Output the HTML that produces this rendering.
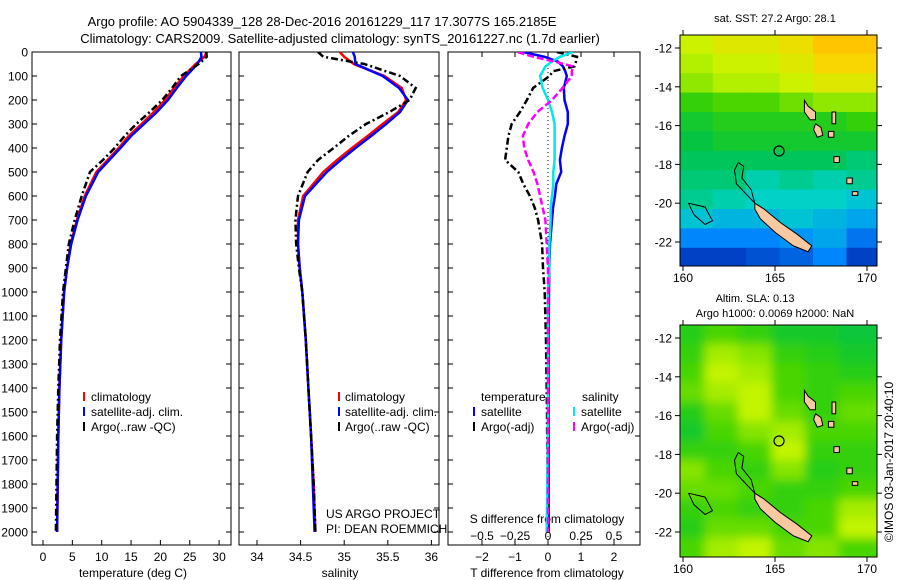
<!DOCTYPE html>
<html><head><meta charset="utf-8"><style>
body{margin:0;background:#fff}
svg{display:block;font-family:"Liberation Sans",sans-serif}
text{fill:#000}
</style></head><body>
<svg id="fig" width="900" height="580" viewBox="0 0 900 580">
<defs>
<clipPath id="c1"><rect x="32" y="52" width="199" height="493"/></clipPath>
<clipPath id="c2"><rect x="239" y="52" width="200" height="493"/></clipPath>
<clipPath id="c3"><rect x="448" y="52" width="192" height="493"/></clipPath>
<clipPath id="m1"><rect x="680" y="35" width="197" height="231"/></clipPath>
<clipPath id="m2"><rect x="680" y="325" width="197" height="232"/></clipPath>
<filter id="blur" x="-5%" y="-5%" width="110%" height="110%"><feGaussianBlur stdDeviation="5"/></filter>
</defs>
<text x="322" y="26" font-size="13" text-anchor="middle">Argo profile: AO 5904339_128 28-Dec-2016 20161229_117 17.3077S 165.2185E</text>
<text x="340" y="43" font-size="13" text-anchor="middle">Climatology: CARS2009. Satellite-adjusted climatology: synTS_20161227.nc (1.7d earlier)</text>
<g id="g"></g>
</svg>
<script>
// ---- data ----
const depthT = [0,20,50,100,150,200,250,300,350,400,450,500,600,700,800,900,1000,1200,1400,1600,1800,2000];
const argoT = [27.8,27.9,26.5,23.5,22.0,20.3,18.2,15.9,13.9,12.2,10.2,8.0,6.6,5.4,4.4,3.9,3.4,2.9,2.6,2.4,2.3,2.2];
const climT = [27.9,27.5,26.0,24.0,22.3,20.8,18.9,16.8,14.6,12.9,11.0,9.1,7.1,5.8,4.7,4.1,3.6,3.1,2.8,2.6,2.5,2.4];
const satT = [26.9,27.0,26.3,24.4,22.8,21.3,19.4,17.2,15.0,13.2,11.3,9.4,7.3,5.9,4.8,4.1,3.6,3.1,2.8,2.6,2.5,2.4];
const argoS = [34.70,34.76,35.23,35.64,35.82,35.75,35.52,35.25,35.05,34.88,34.70,34.58,34.47,34.44,34.45,34.48,34.52,34.56,34.59,34.62,34.65,34.67];
const climS = [34.95,35.00,35.11,35.46,35.66,35.71,35.62,35.44,35.27,35.09,34.92,34.76,34.53,34.47,34.47,34.49,34.52,34.56,34.59,34.62,34.65,34.67];
const satS = [35.10,35.12,35.13,35.44,35.63,35.73,35.64,35.48,35.31,35.13,34.96,34.80,34.55,34.48,34.47,34.49,34.52,34.56,34.59,34.62,34.64,34.66];
const depthD = [0,20,40,60,80,100,150,200,250,300,350,400,450,500,550,600,650,700,800,900,1000,1200,1500,2000];
const satTd = [-0.76,-0.1,0.3,0.45,0.52,0.57,0.48,0.5,0.6,0.6,0.5,0.42,0.36,0.4,0.25,0.21,0.15,0.12,0.06,0.04,0.03,0.02,0.02,0.02];
const argoTd = [0.27,0.88,0.85,0.8,0.15,0.05,-0.45,-0.64,-0.85,-1.1,-1.2,-1.25,-1.3,-0.9,-0.75,-0.55,-0.4,-0.3,-0.18,-0.15,-0.1,-0.06,-0.03,0.0];
const satSd = [0.19,0.09,0.03,-0.02,-0.04,-0.06,-0.04,0.0,0.03,0.05,0.05,0.05,0.05,0.04,0.04,0.03,0.02,0.02,0.01,0.01,0.0,0.0,0.0,-0.01];
const argoSd = [-0.23,-0.11,0.05,0.19,0.18,0.18,0.11,0.03,-0.08,-0.15,-0.19,-0.18,-0.15,-0.11,-0.08,-0.06,-0.04,-0.02,-0.01,0,0,0,0,0];
const depthTicks = [0,100,200,300,400,500,600,700,800,900,1000,1100,1200,1300,1400,1500,1600,1700,1800,1900,2000];
const tTicks = [0,5,10,15,20,25,30];
const sTicks = [34,34.5,35,35.5,36];
const tdTicks = [-2,-1,0,1,2];
const sdTicks = [-0.5,-0.25,0,0.25,0.5];
const sdLabels = ['\u22120.5','\u22120.25','0','0.25','0.5'];
const tdLabels = ['\u22122','\u22121','0','1','2'];
const lonTicks = [160,165,170];
const latTicks = [-12,-14,-16,-18,-20,-22];
const sstGrid = [
[28.2,28.3,28.3,28.4,28.6,28.6],[28.1,28.2,28.2,28.3,28.5,28.5],[28.0,28.1,28.1,28.2,28.3,28.3],
[27.7,27.8,27.8,27.9,28.0,28.0],[27.5,27.6,27.6,27.6,27.6,27.7],[27.4,27.5,27.5,27.5,27.5,27.5],
[27.3,27.3,27.3,27.3,27.3,27.2],[27.2,27.2,27.0,27.1,27.0,27.1],[27.1,27.0,26.9,26.9,26.9,26.8],
[26.8,26.7,26.7,26.8,26.7,26.6],[26.4,26.4,26.4,26.5,26.6,26.3],[26.0,26.0,26.1,26.2,26.4,26.0]];
const slaGrid = [
[.12,.14,.13,.11,.11,.10],[.13,.17,.16,.13,.12,.11],[.14,.18,.17,.14,.13,.12],[.15,.17,.18,.14,.13,.14],
[.12,.15,.18,.15,.13,.15],[.11,.14,.16,.17,.14,.14],[.13,.13,.14,.18,.13,.13],[.16,.14,.13,.16,.12,.13],
[.15,.15,.14,.13,.13,.14],[.13,.14,.13,.13,.14,.17],[.12,.15,.15,.14,.14,.18],[.14,.17,.18,.15,.16,.14]];
const argoLon = 165.2185, argoLat = -17.3077;

// ---- helpers ----
const NS='http://www.w3.org/2000/svg';
const G=document.getElementById('g');
function el(tag,attrs,parent,txt){const e=document.createElementNS(NS,tag);for(const k in attrs)e.setAttribute(k,attrs[k]);if(txt!==undefined)e.textContent=txt;(parent||G).appendChild(e);return e;}
const yD = d => 52 + d*0.24;
const xT = v => 43 + v*5.87;
const xS = v => 257 + (v-34)*87.2;
const xTd = v => 548 + v*33;
const xSd = v => 548 + v*132;
const lonX = lon => 683 + (lon-160)*18.4;
const latY1 = lat => 48 + (-12-lat)*19.4;
const latY2 = lat => 338 + (-12-lat)*19.4;

function series(vals,depths,xf,color,dash,w,clip,name){
  const pts=vals.map((v,i)=>xf(v).toFixed(1)+','+yD(depths[i]).toFixed(1)).join(' ');
  const p=el('polyline',{points:pts,fill:'none',stroke:color,'stroke-width':w,'stroke-dasharray':dash||'none','clip-path':'url(#'+clip+')'});
  
  
}
function frame(x,y,w,h,name){const r=el('rect',{x:x,y:y,width:w,height:h,fill:'none',stroke:'#000','stroke-width':1});
  
  }
function txt(x,y,s,size,anchor,name){const t=el('text',{x:x,y:y,'font-size':size,'text-anchor':anchor||'start'},G,s);
  
  return t;}

// ---- depth axis ----
depthTicks.forEach(d=>{
  txt(28,yD(d)+4.5,String(d),12,'end','depth-tick-label');
  [[32,1],[231,-1],[239,1],[439,-1],[448,1],[640,-1]].forEach(([x,s])=>el('line',{x1:x,x2:x+5*s,y1:yD(d),y2:yD(d),stroke:'#000'}));
});
// panel 1
frame(32,52,199,493,'temperature-panel');
tTicks.forEach(v=>{el('line',{x1:xT(v),x2:xT(v),y1:545,y2:540,stroke:'#000'});txt(xT(v),561,String(v),12,'middle','temperature-tick-label');});
txt(133,577,'temperature (deg C)',12,'middle','temperature-axis-title');
series(climT,depthT,xT,'#ff0000',null,2.5,'c1','climatology-temperature-line');
series(satT,depthT,xT,'#0000ff',null,2.5,'c1','satellite-temperature-line');
series(argoT,depthT,xT,'#000',"7,3,2,3",2.5,'c1','argo-temperature-line');
// panel 2
frame(239,52,200,493,'salinity-panel');
sTicks.forEach(v=>{el('line',{x1:xS(v),x2:xS(v),y1:545,y2:540,stroke:'#000'});txt(xS(v),561,String(v),12,'middle','salinity-tick-label');});
txt(340,577,'salinity',12,'middle','salinity-axis-title');
series(climS,depthT,xS,'#ff0000',null,2.5,'c2','climatology-salinity-line');
series(satS,depthT,xS,'#0000ff',null,2.5,'c2','satellite-salinity-line');
series(argoS,depthT,xS,'#000',"7,3,2,3",2.5,'c2','argo-salinity-line');
txt(326,518,'US ARGO PROJECT',12,'start','project-credit');
txt(326,533,'PI: DEAN ROEMMICH',12,'start','pi-credit');
// legends panels 1 & 2
[[83,91],[338,345]].forEach(([lx,tx],k)=>{
  [['#ff0000','climatology'],['#0000ff','satellite-adj. clim.'],['#000','Argo(..raw -QC)']].forEach(([c,s],i)=>{
    el('rect',{x:lx,y:392+i*15,width:2,height:9,fill:c});
    txt(tx,401+i*15,s,12,'start','legend-entry');
  });
});
// panel 3
frame(448,52,192,493,'difference-panel');
el('line',{x1:548,x2:548,y1:52,y2:545,stroke:'#000','stroke-dasharray':'1,3'});
tdTicks.forEach((v,i)=>{el('line',{x1:xTd(v),x2:xTd(v),y1:545,y2:540,stroke:'#000'});el('line',{x1:xTd(v),x2:xTd(v),y1:52,y2:57,stroke:'#000'});txt(xTd(v),561,tdLabels[i],12,'middle','t-diff-tick-label');});
sdTicks.forEach((v,i)=>{txt(xSd(v),540,sdLabels[i],12,'middle','s-diff-tick-label');});
txt(547,523,'S difference from climatology',12,'middle','s-diff-axis-title');
txt(547,577,'T difference from climatology',12,'middle','t-diff-axis-title');
series(satTd,depthD,xTd,'#0000ff',null,2.5,'c3','satellite-temp-diff-line');
series(argoTd,depthD,xTd,'#000',"7,3,2,3",2.5,'c3','argo-temp-diff-line');
series(satSd,depthD,xSd,'#00e8e8',null,2.5,'c3','satellite-sal-diff-line');
series(argoSd,depthD,xSd,'#ff00ff',"7,3",2.5,'c3','argo-sal-diff-line');
txt(481,401,'temperature',12,'start','legend-header-temperature');
txt(582,401,'salinity',12,'start','legend-header-salinity');
[['#0000ff',473,481,'satellite',416],['#000',473,481,'Argo(-adj)',431],['#00e8e8',573,581,'satellite',416],['#ff00ff',573,581,'Argo(-adj)',431]].forEach(([c,lx,tx,s,y])=>{
  el('rect',{x:lx,y:y-9,width:2,height:9,fill:c});txt(tx,y,s,12,'start','legend-entry');
});

// ---- maps ----
const stops=[[0,[0,30,170]],[0.2,[0,140,255]],[0.35,[0,210,200]],[0.5,[0,195,70]],[0.62,[60,210,0]],[0.75,[200,245,0]],[0.87,[255,210,0]],[1,[255,130,0]]];
function cmap(t){t=Math.max(0,Math.min(1,t));for(let i=1;i<stops.length;i++){if(t<=stops[i][0]){const a=stops[i-1],b=stops[i],f=(t-a[0])/(b[0]-a[0]);return 'rgb('+a[1].map((c,j)=>Math.round(c+(b[1][j]-c)*f)).join(',')+')';}}return 'rgb(255,130,0)';}
const islands=[
 [[163.9,-20.0],[164.4,-20.3],[165.3,-21.0],[166.2,-21.6],[167.0,-22.2],[166.8,-22.5],[166.0,-22.2],[165.0,-21.5],[164.2,-20.8],[163.9,-20.3]],
 [[166.6,-14.7],[166.8,-15.0],[167.2,-15.3],[167.2,-15.7],[166.9,-15.7],[166.6,-15.3]],
 [[167.2,-15.9],[167.5,-16.1],[167.6,-16.5],[167.3,-16.6],[167.1,-16.2]],
 [[168.2,-17.6],[168.5,-17.6],[168.5,-17.9],[168.2,-17.9]],
 [[168.1,-15.3],[168.3,-15.3],[168.3,-15.9],[168.1,-15.9]],
 [[168.9,-18.7],[169.2,-18.7],[169.2,-19.0],[168.9,-19.0]],
 [[169.2,-19.4],[169.5,-19.4],[169.5,-19.6],[169.2,-19.6]],
 [[167.9,-16.3],[168.2,-16.3],[168.2,-16.6],[167.9,-16.6]]];
const reef=[[163.0,-17.9],[163.3,-18.1],[163.2,-18.7],[163.7,-19.3],[163.9,-20.0],[163.5,-19.6],[162.9,-19.0],[162.8,-18.3],[163.0,-17.9]];
const reef2=[[160.3,-20.0],[161.2,-20.2],[161.6,-20.9],[161.2,-21.1],[160.6,-20.6],[160.3,-20.0]];
function drawMap(grid,vmin,vmax,latY,top,clip,blur,name){
  const g=el('g',{'clip-path':'url(#'+clip+')'});
  
  
  const inner=el('g',blur?{filter:'url(#blur)'}:{},g);
  const cw=(170.7-159.8)/grid[0].length;
  grid.forEach((row,r)=>row.forEach((v,c)=>{
    const lon0=159.8+c*cw, lat0=-11.3-r;
    const x0=lonX(lon0)-(blur?8:0), y0=latY(lat0)-(blur&&r==0?8:0);
    const cell=el('rect',{x:x0.toFixed(1),y:y0.toFixed(1),width:(cw*18.4+(blur&&(c==0||c==grid[0].length-1)?16:0)+0.5).toFixed(1),height:(19.4+(blur&&(r==0||r==grid.length-1)?16:0)+0.5).toFixed(1),fill:cmap((v-vmin)/(vmax-vmin))},inner);
    
    
  }));
  islands.forEach(p=>el('polygon',{points:p.map(q=>lonX(q[0]).toFixed(1)+','+latY(q[1]).toFixed(1)).join(' '),fill:'#f8c8a0',stroke:'#000','stroke-width':1},g));
  [reef,reef2].forEach(p=>el('polyline',{points:p.map(q=>lonX(q[0]).toFixed(1)+','+latY(q[1]).toFixed(1)).join(' '),fill:'none',stroke:'#000','stroke-width':1},g));
  const m=el('circle',{cx:lonX(argoLon),cy:latY(argoLat),r:5,fill:'none',stroke:'#000','stroke-width':1.2},g);
  
  
  frame(680,top,197,clip=='m1'?231:232,name+'-frame');
  latTicks.forEach(l=>{el('line',{x1:680,x2:675,y1:latY(l),y2:latY(l),stroke:'#000'});el('line',{x1:877,x2:882,y1:latY(l),y2:latY(l),stroke:'#000'});txt(672,latY(l)+4.5,'-'+(-l),12,'end','latitude-tick-label');});
  const bot=top+(clip=='m1'?231:232);
  lonTicks.forEach(l=>{el('line',{x1:lonX(l),x2:lonX(l),y1:bot,y2:bot+5,stroke:'#000'});el('line',{x1:lonX(l),x2:lonX(l),y1:top,y2:top-5,stroke:'#000'});txt(lonX(l),bot+16,String(l),12,'middle','longitude-tick-label');});
}
drawMap(sstGrid,25.8,28.95,latY1,35,'m1',false,'sst-map');
drawMap(slaGrid,-0.086,0.271,latY2,325,'m2',true,'sla-map');
txt(775,22,'sat. SST: 27.2 Argo: 28.1',11,'middle','sst-map-title');
txt(755,302,'Altim. SLA: 0.13',11,'middle','sla-map-title');
txt(775,317,'Argo h1000: 0.0069 h2000: NaN',11,'middle','sla-map-subtitle');
const c=txt(0,0,'\u00A9IMOS 03-Jan-2017 20:40:10',12,'middle','timestamp-credit');
c.setAttribute('transform','translate(893,462) rotate(-90)');
</script>
</body></html>
